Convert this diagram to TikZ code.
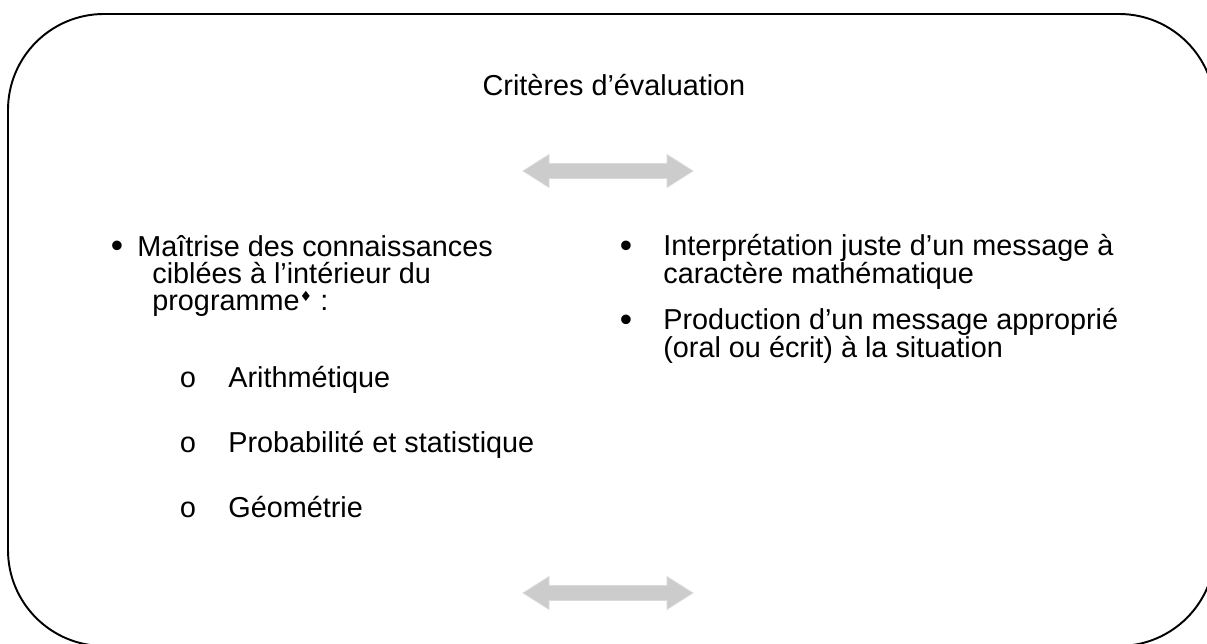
\documentclass[tikz,border=0pt]{standalone}
\usepackage{fontspec}
\setmainfont{Liberation Sans}
\newfontfamily\symfont{DejaVu Sans}
\newfontfamily\monofont{Liberation Mono}
\usepackage{tikz}
\usetikzlibrary{positioning}
\definecolor{arrowgray}{RGB}{204,204,204}

\begin{document}
\begin{tikzpicture}[x=0.02cm,y=-0.02cm, every node/.style={font=\fontsize{16.4}{15.4}\selectfont, inner sep=0pt}]
    % Styles
    \tikzset{frame/.style   ={draw=black,line width=1.1pt,rounded corners=1.92cm}}
    \tikzset{dblarrow/.style={fill=arrowgray,draw=arrowgray!70,line width=0.4pt}}
    \tikzset{txt/.style     ={anchor=base west,align=left}}
    \tikzset{bul/.style     ={anchor=base,font=\fontsize{20}{20}\selectfont}}
    \tikzset{subbul/.style  ={anchor=base,font=\monofont\fontsize{16.4}{16}\selectfont}}

    \useasboundingbox (0,0) rectangle (1207,644);
    \clip (0,0) rectangle (1207,644);

    % Outer frame (runs past the page on the right and bottom)
    \draw[frame] (8,14) rectangle (1215,646);

    % Title
    \node[anchor=base] (titre) at (614,96) {Critères d’évaluation};

    % Double arrows
    \coordinate (toparrow) at (608,171);
    \coordinate (botarrow) at (608,593);
    \fill[dblarrow] (toparrow) ++(-85,0) -- ++(26,-16.5) -- ++(0,9) -- ++(118,0) -- ++(0,-9)
        -- ++(26,16.5) -- ++(-26,16.5) -- ++(0,-9) -- ++(-118,0) -- ++(0,9) -- cycle;
    \fill[dblarrow] (botarrow) ++(-85,0) -- ++(26,-16.5) -- ++(0,9) -- ++(118,0) -- ++(0,-9)
        -- ++(26,16.5) -- ++(-26,16.5) -- ++(0,-9) -- ++(-118,0) -- ++(0,9) -- cycle;

    % Left column (node base = last line)
    \node[bul] (bul1) at (117,258) {•};
    \node[txt] (crit1) at (152,311) {\hspace*{-0.3cm}Maîtrise des connaissances\\
        ciblées à l’intérieur du\\
        programme\raisebox{0.6ex}{\symfont\fontsize{8}{8}\selectfont ♦} :};

    \node[subbul] (sub1) at (188,388) {o};
    \node[txt] (arith) at (228,388) {Arithmétique};
    \node[subbul] (sub2) at (188,453) {o};
    \node[txt] (proba) at (228,453) {Probabilité et statistique};
    \node[subbul] (sub3) at (188,518) {o};
    \node[txt] (geom)  at (228,518) {Géométrie};

    % Right column
    \node[bul] (bul2) at (626,258) {•};
    \node[txt] (crit2) at (663,284) {Interprétation juste d’un message à\\caractère mathématique};
    \node[bul] (bul3) at (626,332) {•};
    \node[txt] (crit3) at (663,358) {Production d’un message approprié\\(oral ou écrit) à la situation};
\end{tikzpicture}
\end{document}
